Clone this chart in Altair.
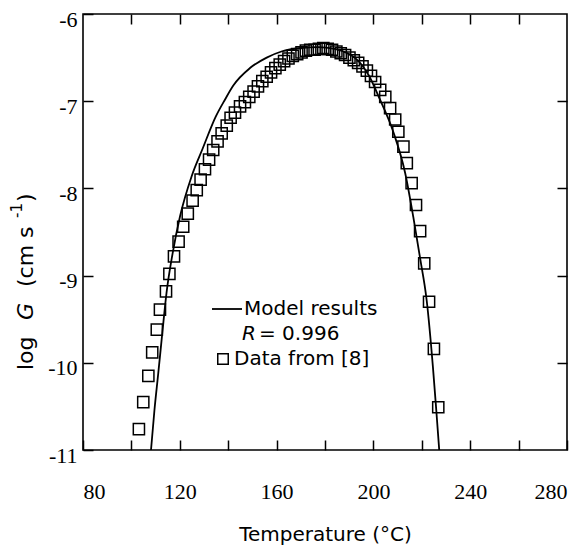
import altair as alt
import pandas as pd

# Data
sq_T = [103.1, 104.9, 107.0, 108.6, 110.5, 111.8, 114.3, 115.7, 117.6, 119.5, 121.4, 123.3,
        125.3, 127.0, 128.6, 130.4, 132.1, 133.8, 135.6, 137.3, 139.4, 141.0, 142.8, 144.9,
        146.9, 148.7, 150.5, 152.3, 154.1, 155.9, 157.7, 159.5, 161.3, 163.1, 164.9, 166.7,
        168.5, 170.3, 172.1, 173.9, 175.7, 177.5, 179.3, 181.1, 182.9, 184.7, 186.5, 188.3,
        190.1, 191.9, 193.7, 195.5, 197.3, 199.0, 200.7, 202.8, 204.9, 206.9, 209.0, 210.3,
        212.4, 213.8, 215.8, 217.6, 219.3, 221.0, 223.0, 225.0, 226.8]
sq_G = [-10.76, -10.45, -10.15, -9.88, -9.62, -9.39, -9.18, -8.98, -8.78, -8.61, -8.44, -8.29,
        -8.14, -8.02, -7.90, -7.78, -7.67, -7.56, -7.46, -7.37, -7.28, -7.19, -7.13, -7.06,
        -7.01, -6.95, -6.89, -6.83, -6.77, -6.72, -6.67, -6.62, -6.58, -6.54, -6.51, -6.48,
        -6.46, -6.44, -6.42, -6.41, -6.41, -6.40, -6.39, -6.40, -6.41, -6.43, -6.45, -6.47,
        -6.50, -6.53, -6.56, -6.60, -6.65, -6.71, -6.78, -6.87, -6.95, -7.08, -7.21, -7.35,
        -7.52, -7.71, -7.94, -8.19, -8.49, -8.86, -9.30, -9.84, -10.51]

line_T = [108.1, 109.5, 111.1, 112.8, 114.5, 117.0, 120.1, 124.9, 129.5, 134.8, 138.7, 142.1,
          149.0, 155.9, 162.0, 170.0, 177.0, 184.0, 190.0, 193.1, 198.0, 202.7, 208.2, 213.1,
          216.5, 219.3, 222.0, 224.6, 226.0, 227.2]
line_G = [-11.0, -10.55, -10.12, -9.65, -9.20, -8.75, -8.32, -7.86, -7.54, -7.18, -6.98, -6.82,
          -6.62, -6.50, -6.43, -6.39, -6.38, -6.40, -6.46, -6.52, -6.70, -6.98, -7.35, -7.82,
          -8.33, -8.80, -9.28, -10.05, -10.55, -11.0]

x_ticks = [80, 100, 120, 140, 160, 180, 200, 220, 240, 260, 280]
x_top_ticks = [100, 120, 140, 160, 180, 200, 220, 240, 260]
y_ticks = [-11, -10, -9, -8, -7, -6]
y_right_ticks = [-10, -9, -8, -7]

legend_line_label = ["Model results"]
legend_R = ["R"]
legend_R_value = ["= 0.996"]
legend_data_label = ["Data from [8]"]

x_title = "Temperature (°C)"
y_title_parts = ["log", "G", "(cm  s", "-1", ")"]

SANS = "DejaVu Sans"
SERIF = "Liberation Serif"

sq_df = pd.DataFrame({"T": sq_T, "G": sq_G})
line_df = pd.DataFrame({"T": line_T, "G": line_G})

xscale = alt.Scale(domain=[80, 280], nice=False, zero=False)
yscale = alt.Scale(domain=[-11, -6], nice=False, zero=False)

tick_common = dict(offset=-10, tickSize=10, domain=False, grid=False,
                   tickColor="black", tickWidth=1.5)

x_axis = alt.Axis(values=x_ticks,
                  labelExpr="datum.value % 40 == 0 ? datum.value : ''",
                  labelFont=SERIF, labelFontSize=22, labelColor="black",
                  labelPadding=31, title=x_title, titleFont=SANS,
                  titleFontSize=20, titleFontWeight="normal", titleColor="black",
                  titlePadding=22, **tick_common)
y_axis = alt.Axis(values=y_ticks,
                  labelExpr="'-' + abs(datum.value)",
                  labelFont=SERIF, labelFontSize=22, labelColor="black",
                  labelPadding=6, labelOffset=5, title=None, **tick_common)
x_top = alt.Axis(orient="top", values=x_top_ticks, labels=False, title=None, **tick_common)
y_right = alt.Axis(orient="right", values=y_right_ticks, labels=False, title=None, **tick_common)

points = alt.Chart(sq_df).mark_point(shape="square", filled=False, color="black",
                                      strokeWidth=1.5, size=125, opacity=1).encode(
    x=alt.X("T:Q", scale=xscale, axis=x_axis),
    y=alt.Y("G:Q", scale=yscale, axis=y_axis),
)

line = alt.Chart(line_df).mark_line(color="black", strokeWidth=1.8,
                                    interpolate="monotone").encode(
    x=alt.X("T:Q", scale=xscale, axis=x_top),
    y=alt.Y("G:Q", scale=yscale, axis=y_right),
    order="T:Q",
)

leg_rule = alt.Chart(pd.DataFrame({"k": [0]})).mark_rule(color="black", strokeWidth=1.8).encode(
    x=alt.value(129), x2=alt.value(159), y=alt.value(295))


def label(txt, x, y, italic=False, size=20, angle=0):
    return alt.Chart(pd.DataFrame({"t": txt})).mark_text(
        align="left", baseline="middle", font=SANS, fontSize=size, color="black",
        angle=angle, fontStyle="italic" if italic else "normal").encode(
        x=alt.value(x), y=alt.value(y), text="t:N")


leg_sq = alt.Chart(pd.DataFrame({"k": [0]})).mark_point(
    shape="square", filled=False, color="black", strokeWidth=1.5, size=110, opacity=1).encode(
    x=alt.value(140), y=alt.value(345))

# rotated y-axis title, built from pieces so that G can be italic
yt = [
    label([y_title_parts[0]], -57, 356, size=22, angle=270),
    label([y_title_parts[1]], -57, 306, italic=True, size=22, angle=270),
    label([y_title_parts[2]], -57, 273, size=22, angle=270),
    label([y_title_parts[3]], -66, 204, size=15, angle=270),
    label([y_title_parts[4]], -57, 188, size=22, angle=270),
]

chart = alt.layer(
    points, line, leg_rule,
    label(legend_line_label, 161, 295),
    label(legend_R, 159, 320, italic=True),
    label(legend_R_value, 176, 320),
    leg_sq,
    label(legend_data_label, 151, 345),
    *yt,
).resolve_axis(x="independent", y="independent").properties(
    width=484, height=436,
    padding={"left": 83, "top": 14, "right": 19, "bottom": 99},
    autosize=alt.AutoSizeParams(type="none"),
    background="white",
).configure_view(stroke="black", strokeWidth=1.6)

chart.save("out.html", embed_options={"renderer": "svg", "actions": False})
